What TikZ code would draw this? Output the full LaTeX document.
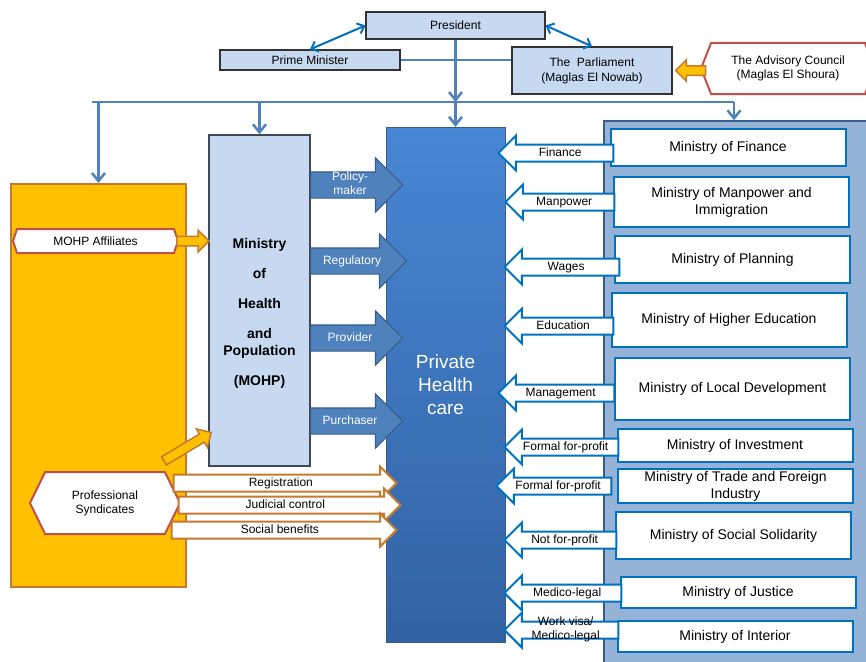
\documentclass[tikz,border=0pt]{standalone}
\usepackage{fontspec}
\setmainfont{Liberation Sans}
\usetikzlibrary{arrows.meta,shapes.arrows,shapes.symbols,calc}
\definecolor{boxblue}{RGB}{198,217,241}
\definecolor{lineblue}{RGB}{79,129,189}
\definecolor{brightblue}{RGB}{0,112,192}
\definecolor{darkblue}{RGB}{56,93,138}
\definecolor{panelblue}{RGB}{149,179,215}
\definecolor{mohpedge}{RGB}{64,72,88}
\definecolor{gold}{RGB}{255,192,0}
\definecolor{goldedge}{RGB}{196,122,46}
\definecolor{hexred}{RGB}{192,80,77}
\definecolor{phctop}{RGB}{72,135,212}
\definecolor{phcbot}{RGB}{50,98,163}
\begin{document}
\begin{tikzpicture}[x=1pt,y=-1pt,
	topbox/.style={draw=black!80,fill=boxblue,line width=1.2pt,font=\fontsize{12}{15}\selectfont,align=center,inner sep=0pt},
	hexbox/.style={signal,signal to=west and east,draw=hexred,fill=white,line width=2pt,font=\fontsize{12}{14}\selectfont,align=center,inner sep=0pt},
	minbox/.style={draw=brightblue,fill=white,line width=2pt,minimum width=235pt,font=\fontsize{14}{17}\selectfont,align=center,inner sep=0pt},
	busline/.style={draw=lineblue,line width=2.5pt},
	busarrow/.style={busline,-{Straight Barb[length=8pt,width=13pt]}},
	twoway/.style={draw=brightblue,line width=2pt,{Straight Barb[length=6pt,width=11pt]}-{Straight Barb[length=6pt,width=11pt]}},
	blockarrow/.style={single arrow,single arrow tip angle=90,inner xsep=0pt,font=\fontsize{12}{14}\selectfont},
	rolearrow/.style={blockarrow,draw=darkblue,fill=lineblue,line width=1.2pt,text=white,text height=9pt,text depth=3pt,inner ysep=6.5pt,single arrow head extend=14pt,anchor=tail},
	bodyarrow/.style={blockarrow,draw=goldedge,fill=white,line width=2pt,text height=8pt,text depth=2pt,inner ysep=2.5pt,single arrow head extend=8pt,anchor=tip},
	linkarrow/.style={blockarrow,draw=brightblue,fill=white,line width=2pt,text height=8pt,text depth=2pt,inner ysep=2.5pt,single arrow head extend=9pt,shape border rotate=180,anchor=tip},
	goldarrow/.style={blockarrow,draw=goldedge,fill=gold,line width=1.5pt,inner ysep=4pt,single arrow head extend=6pt,anchor=tip}]
	\useasboundingbox (0,0) rectangle (866,661);
	\clip (0,0) rectangle (866,661);

	\node[topbox,minimum width=179pt,minimum height=27pt] (president) at (455.5,25.5) {President};
	\node[topbox,minimum width=180pt,minimum height=20pt] (primeminister) at (310,60) {Prime Minister};
	\node[topbox,minimum width=160pt,minimum height=47pt] (parliament) at (592,70.5) {The\ \ Parliament\\(Maglas El Nowab)};
	\node[hexbox,signal pointer angle=137,minimum width=174pt,minimum height=51pt] (advisory) at (788,68.5) {The Advisory Council\\(Maglas El Shoura)};
	\node[goldarrow,shape border rotate=180,minimum height=30pt] (advisoryarrow) at ($(parliament.east)+(2,0)$) {};
	\draw[twoway] (president.west) -- (primeminister.north);
	\draw[twoway] (president.east) -- (parliament.north);
	\draw[busline] (primeminister.east) -- (primeminister.east -| parliament.west);

	\coordinate (hub) at (455.5,102);
	\coordinate (busL) at (92,102);
	\coordinate (busR) at (734,102);
	\draw[busarrow] (president.south) -- (hub);
	\draw[busline] (busL) -- (busR);

	\node[draw=darkblue,fill=panelblue,line width=1.5pt,minimum width=280pt,minimum height=560pt,inner sep=0pt] (panel) at (744,401) {};
	\node[draw=goldedge,fill=gold,line width=2pt,minimum width=175pt,minimum height=403pt,inner sep=0pt] (orangebox) at (98.5,385.5) {};
	\node[draw=mohpedge,fill=boxblue,line width=1.5pt,minimum width=101pt,minimum height=331pt,inner sep=0pt] (mohp) at (259.5,300.5) {};
	\node[font=\fontsize{14}{17}\selectfont\bfseries,align=center] (mohplabel) at (259.5,313) {Ministry\\[13pt]of\\[13pt]Health\\[13pt]and\\Population\\[13pt](MOHP)};
	\node[draw=darkblue,top color=phctop,bottom color=phcbot,minimum width=119pt,minimum height=515pt,text=white,font=\fontsize{19}{23}\selectfont,align=center] (privhealth) at (445.5,384.5) {Private\\Health\\care};

	\foreach \t in {orangebox,mohp}
		\draw[busarrow] (\t.north |- busL) -- (\t.north);
	\draw[busarrow] (hub) -- (hub |- privhealth.north);
	\draw[busarrow] (busR) -- (busR |- panel.north);

	\node[rolearrow,minimum height=92pt] (policy) at (310,185) {\smash{\begin{tabular}{@{}c@{}}Policy-\\maker\end{tabular}}};
	\node[rolearrow,minimum height=96pt] (regulatory) at (310,261) {Regulatory};
	\node[rolearrow,minimum height=92pt] (provider) at (310,338) {Provider};
	\node[rolearrow,minimum height=92pt] (purchaser) at (310,421) {Purchaser};

	\node[hexbox,signal pointer angle=143,minimum width=165pt,minimum height=24pt] (affiliates) at (95.5,241) {MOHP Affiliates};
	\node[goldarrow,minimum height=32pt] (affiliatesarrow) at (210,241) {};
	\node[hexbox,signal pointer angle=128,minimum width=150pt,minimum height=62pt] (syndicates) at (105,503) {Professional\\Syndicates};
	\node[goldarrow,rotate=31,minimum height=55pt] (syndicatesarrow) at (212,432) {};
	\node[bodyarrow,minimum height=223pt] (registration) at (398,483) {Registration};
	\node[bodyarrow,minimum height=222pt] (judicial) at (402,505) {Judicial control};
	\node[bodyarrow,minimum height=225pt] (benefits) at (398,530) {Social benefits};

	\node[minbox,minimum height=37pt] (finance) at (728,147.5) {Ministry of Finance};
	\node[minbox,minimum height=50pt] (manpower) at (731.5,202) {Ministry of Manpower and\\Immigration};
	\node[minbox,minimum height=47pt] (planning) at (732.5,259.5) {Ministry of Planning};
	\node[minbox,minimum height=54pt] (higheredu) at (729,320) {Ministry of Higher Education};
	\node[minbox,minimum height=62pt] (localdev) at (732.5,389) {Ministry of Local Development};
	\node[minbox,minimum height=33pt] (investment) at (735,445.5) {Ministry of Investment};
	\node[minbox,minimum height=34pt] (trade) at (735.5,486) {Ministry of Trade and Foreign\\Industry};
	\node[minbox,minimum height=47pt] (solidarity) at (733.5,535.5) {Ministry of Social Solidarity};
	\node[minbox,minimum height=31pt] (justice) at (738,592.5) {Ministry of Justice};
	\node[minbox,minimum height=31pt] (interior) at (735,636.5) {Ministry of Interior};

	\node[linkarrow,minimum height=115pt] (financelink) at (497,153) {Finance};
	\node[linkarrow,minimum height=109pt] (manpowerlink) at (504,202) {Manpower};
	\node[linkarrow,minimum height=115pt] (planninglink) at (503,267) {Wages};
	\node[linkarrow,minimum height=109pt] (higheredulink) at (503,326) {Education};
	\node[linkarrow,minimum height=116pt] (localdevlink) at (497,393) {Management};
	\node[linkarrow,minimum height=114pt] (investmentlink) at (503,447) {Formal for-profit};
	\node[linkarrow,minimum height=115pt] (tradelink) at (495,486) {Formal for-profit};
	\node[linkarrow,minimum height=112pt] (solidaritylink) at (503,540) {Not for-profit};
	\node[linkarrow,minimum height=117pt] (justicelink) at (503,593) {Medico-legal};
	\node[linkarrow,minimum height=114pt] (interiorlink) at (503,630) {\smash{\begin{tabular}{@{}c@{}}Work visa/\\Medico-legal\end{tabular}}};
\end{tikzpicture}
\end{document}
